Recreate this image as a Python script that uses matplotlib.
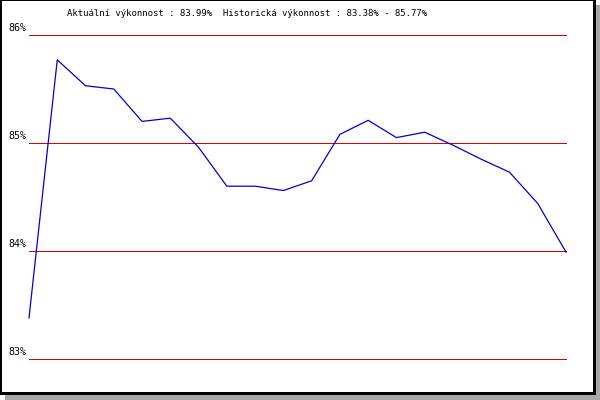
import matplotlib
matplotlib.use('Agg')
import matplotlib.pyplot as plt
from matplotlib.patches import Rectangle

# performance values (%)
values = [83.38, 85.77, 85.53, 85.50, 85.20, 85.23, 84.96, 84.60, 84.60, 84.56,
          84.65, 85.08, 85.21, 85.05, 85.10, 84.98, 84.85, 84.73, 84.44, 83.99]
grid_levels = [83, 84, 85, 86]
grid_labels = ['83%', '84%', '85%', '86%']
title = 'Aktuální výkonnost : 83.99%  Historická výkonnost : 83.38% - 85.77%'

W, H = 600, 400
fig = plt.figure(figsize=(6, 4), dpi=100)

# frame with grey drop shadow
fig.patches.append(Rectangle((5 / W, 0), 595 / W, 395 / H, transform=fig.transFigure,
                             facecolor='#a8a8a8', edgecolor='none', zorder=0))
fig.patches.append(Rectangle((0, 5 / H), 596 / W, 395 / H, transform=fig.transFigure,
                             facecolor='black', edgecolor='none', zorder=1))
fig.patches.append(Rectangle((2 / W, 8 / H), 591 / W, 391 / H, transform=fig.transFigure,
                             facecolor='white', edgecolor='none', zorder=2))

ax = fig.add_axes([29 / W, 41 / H, 537 / W, 324 / H])
ax.patch.set_alpha(0)
ax.set_zorder(3)

x = list(range(len(values)))
for lv in grid_levels:
    ax.axhline(lv, color='#e00000', lw=0.72, antialiased=False, clip_on=False)
ax.plot(x, values, color='#0000d8', lw=0.9, clip_on=False)

ax.set_xlim(0, len(values) - 1)
ax.set_ylim(83, 86)
for s in ax.spines.values():
    s.set_visible(False)
ax.set_xticks([])
ax.set_yticks([])

for lv, lab in zip(grid_levels, grid_labels):
    ax.annotate(lab, xy=(0, lv), xycoords=('axes fraction', 'data'),
                xytext=(-3, 1.5), textcoords='offset pixels',
                ha='right', va='bottom', fontsize=7.2, family='DejaVu Sans Mono')

fig.text(247 / W, 1 - 14 / H, title, ha='center', va='center',
         fontsize=6.5, family='DejaVu Sans Mono', zorder=5)

fig.savefig('out.png', dpi=100)
